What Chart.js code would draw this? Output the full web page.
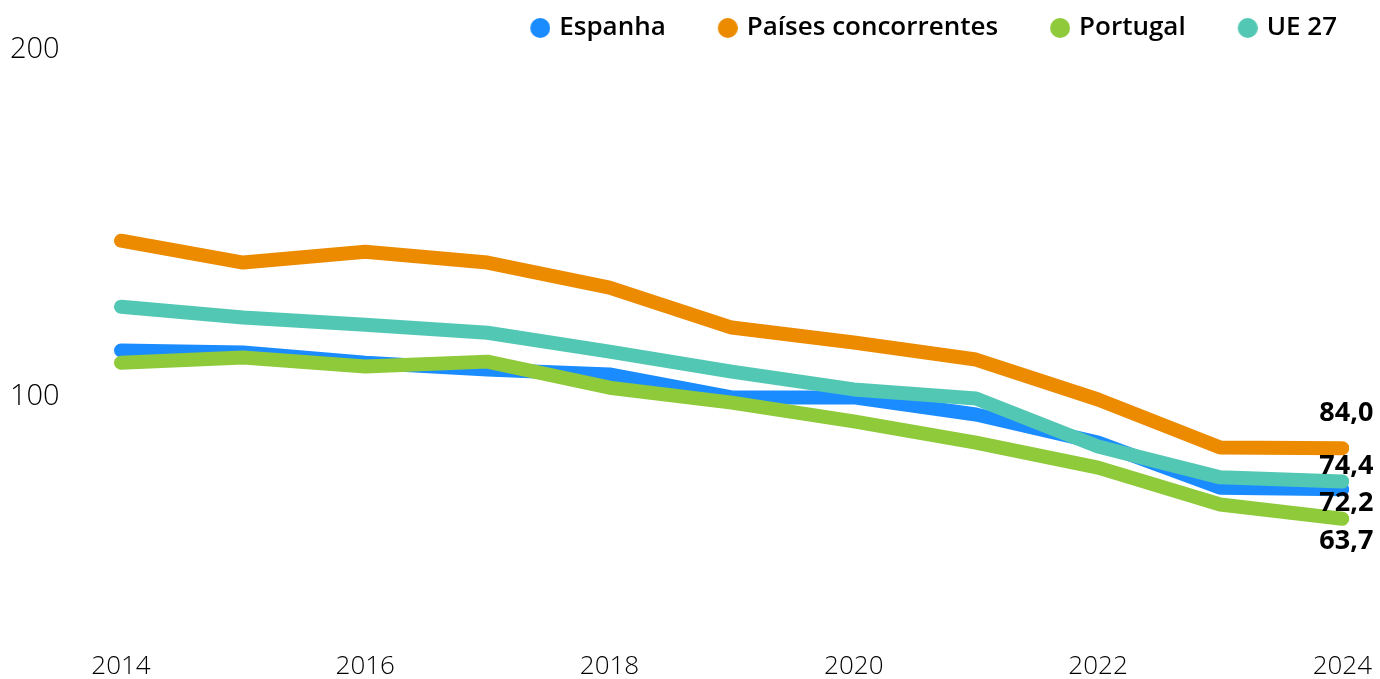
<!DOCTYPE html>
<html>
<head>
<meta charset="utf-8">
<script src="https://cdn.jsdelivr.net/npm/chart.js@4/dist/chart.umd.min.js"></script>
<style>
  html, body { margin: 0; padding: 0; background: #fff; }
  #wrap { width: 1380px; height: 679px; position: relative; }
</style>
</head>
<body>
<div id="wrap"><canvas id="lineChart"></canvas></div>
<script>
// dados
const anos = ['2014', '2015', '2016', '2017', '2018', '2019', '2020', '2021', '2022', '2023', '2024'];
const espanha = [112.1, 111.5, 108.6, 106.6, 105.2, 98.6, 98.6, 93.7, 85.6, 72.6, 72.2];
const paisesConcorrentes = [143.7, 137.4, 140.5, 137.4, 130.2, 118.7, 114.4, 109.5, 98.0, 84.2, 84.0];
const portugal = [108.6, 110.1, 107.5, 108.9, 101.4, 97.1, 91.7, 85.6, 78.4, 67.8, 63.7];
const ue27 = [124.7, 121.6, 119.5, 117.2, 111.8, 106.0, 100.9, 98.3, 84.5, 75.6, 74.4];
const ticksY = [100, 200];

const cores = ['#1a8cff', '#ec8b00', '#8fca3a', '#52c8b4'];
// deslocamento vertical dos rótulos finais (px)
const desvioRotulos = [14, -35, 23, -15];

// círculo da legenda, desviado para a direita para ficar junto ao texto
function bolinha(cor) {
    const c = document.createElement('canvas');
    c.width = 34;
    c.height = 22;
    const g = c.getContext('2d');
    g.fillStyle = cor;
    g.beginPath();
    g.arc(24, 11, 10, 0, Math.PI * 2);
    g.fill();
    return c;
}

// rótulos com o último valor
const rotuloFinal = {
    id: 'rotuloFinal',
    afterDatasetsDraw(chart) {
        const ctx = chart.ctx;
        ctx.save();
        ctx.font = 'bold 27px "Open Sans"';
        ctx.fillStyle = '#000';
        ctx.textAlign = 'right';
        ctx.textBaseline = 'middle';
        chart.data.datasets.forEach((ds, i) => {
            const meta = chart.getDatasetMeta(i);
            const pt = meta.data[meta.data.length - 1];
            const v = ds.data[ds.data.length - 1];
            ctx.fillText(v.toFixed(1).replace('.', ','), pt.x + 31, pt.y + desvioRotulos[i]);
        });
        ctx.restore();
    }
};

// reduz a altura da legenda e encosta-a à direita
const ajusteLegenda = {
    id: 'ajusteLegenda',
    beforeInit(chart) {
        const fitOriginal = chart.legend.fit;
        chart.legend.fit = function () {
            fitOriginal.bind(chart.legend)();
            this.height = 72;
        };
    },
    beforeDraw(chart) {
        chart.legend.right = 1379;
    }
};

const ctx = document.getElementById('lineChart').getContext('2d');
new Chart(ctx, {
    type: 'line',
    data: {
        labels: anos,
        datasets: [
            { label: 'Espanha', data: espanha, borderColor: cores[0], backgroundColor: cores[0], pointStyle: bolinha(cores[0]), order: 4 },
            { label: 'Países concorrentes', data: paisesConcorrentes, borderColor: cores[1], backgroundColor: cores[1], pointStyle: bolinha(cores[1]), order: 1 },
            { label: 'Portugal', data: portugal, borderColor: cores[2], backgroundColor: cores[2], pointStyle: bolinha(cores[2]), order: 2 },
            { label: 'UE 27', data: ue27, borderColor: cores[3], backgroundColor: cores[3], pointStyle: bolinha(cores[3]), order: 3 }
        ]
    },
    options: {
        responsive: true,
        maintainAspectRatio: false,
        animation: false,
        elements: {
            line: { borderWidth: 14, borderCapStyle: 'round', borderJoinStyle: 'round', tension: 0 },
            point: { radius: 0, hoverRadius: 0 }
        },
        layout: { padding: { top: -27, left: 10, right: 37, bottom: -11 } },
        plugins: {
            legend: {
                position: 'top',
                align: 'end',
                labels: {
                    usePointStyle: true,
                    boxHeight: 15,
                    padding: 42,
                    color: '#000',
                    font: { family: '"Open Sans"', size: 26, weight: '600' },
                    sort: (a, b) => a.datasetIndex - b.datasetIndex
                }
            },
            tooltip: { enabled: false }
        },
        scales: {
            x: {
                grid: { display: false, drawTicks: false },
                border: { display: false },
                ticks: {
                    color: '#000',
                    padding: 8,
                    maxRotation: 0,
                    autoSkip: false,
                    font: { family: '"Open Sans"', size: 26, weight: '300' },
                    callback: function (val, idx) { return idx % 2 === 0 ? anos[idx] : ''; }
                }
            },
            y: {
                min: 28,
                max: 200,
                grid: { display: false, drawTicks: false },
                border: { display: false },
                afterBuildTicks: function (axis) { axis.ticks = ticksY.map(v => ({ value: v })); },
                afterFit: function (axis) { axis.width = 111; },
                ticks: {
                    color: '#000',
                    crossAlign: 'far',
                    font: { family: '"Open Sans"', size: 29, weight: '300', lineHeight: '9px' },
                    // linha vazia para baixar o rótulo alguns píxeis
                    callback: function (val) { return ['', String(val)]; }
                }
            }
        }
    },
    plugins: [rotuloFinal, ajusteLegenda]
});
</script>
</body>
</html>
